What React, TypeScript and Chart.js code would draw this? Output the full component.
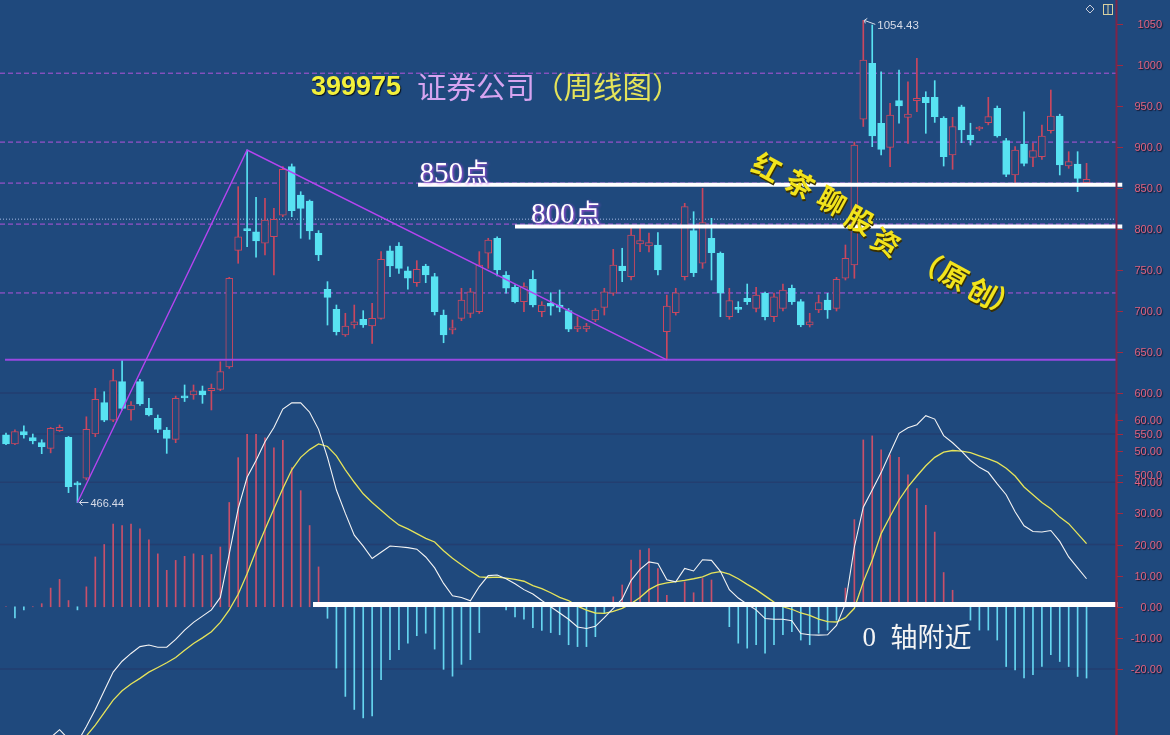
import React, { useEffect, useRef } from 'react';
import Chart from 'chart.js/auto';

// ---------- weekly candles (index 0..121) ----------
const OPEN = [
  549, 538, 553, 545.5, 539.5, 532.5, 554, 546, 489, 496,
  550, 588.2, 567, 613.8, 579.3, 613.8, 581.3, 569, 554.9, 543.5,
  596.3, 597.6, 602.8, 602.8, 604.5, 631.7, 774, 799, 796.7, 782.6,
  790.6, 817, 876, 841.5, 834.1, 794.8, 726.5, 702.1, 670.7, 682.9,
  689.9, 681.7, 691, 773.5, 779.3, 749.1, 734.5, 754.9, 741.9, 695.1,
  677, 691, 697.2, 699.2, 770.4, 788.7, 743.9, 728.9, 711.4, 738.7,
  699.2, 709.4, 707.3, 700.4, 678, 678, 689, 704.5, 721.6, 754.9,
  741.9, 781.7, 779.5, 780.5, 674.8, 698, 741.9, 798, 758.2, 788.7,
  770.4, 693, 703, 715.5, 703.3, 721.6, 693, 703.3, 727.7, 711.4,
  682.9, 701.2, 713.4, 703.3, 739.9, 756.1, 933.8, 1002.1, 929, 899.6,
  956.5, 936.2, 956.5, 960.6, 960.6, 935, 890.2, 949.1, 914.6, 922,
  929.6, 947.2, 907.7, 865.9, 903.7, 887.4, 888.2, 919.9, 937.8, 876.8,
  879.3, 856.5,
];
const HIGH = [
  551, 555, 560, 550, 543, 558, 561, 547, 492, 571,
  605.7, 601.6, 629, 640, 589.6, 616.7, 593.5, 573.2, 558, 596.3,
  609.8, 609.8, 608.5, 611, 638.2, 741, 851.6, 896.3, 838.6, 837.4,
  825.2, 876, 879.3, 845.5, 835.4, 798, 735.8, 707.3, 697.2, 707.3,
  700.4, 709.4, 772.4, 779.3, 783.3, 754, 761.4, 757, 745.9, 701.2,
  689, 727.7, 727.7, 772.4, 788.7, 790.6, 748, 732, 734.5, 749.2,
  711.4, 722.3, 725.6, 703, 693, 685, 703, 727.7, 775.2, 776.5,
  802.8, 800.8, 795, 795.5, 719.5, 727.7, 831.3, 821.1, 849.6, 813,
  772, 727.7, 711.4, 732.9, 728.9, 723, 722, 732.9, 731.7, 714,
  697.2, 719.5, 721.6, 741, 780.5, 906, 1054.43, 1048.8, 991.8, 953.3,
  993.9, 979.6, 1008.2, 967.4, 980.9, 937, 936.2, 951, 929, 925,
  960.6, 950, 910.5, 900.4, 943, 904.5, 926.8, 969.5, 940, 894.3,
  894.3, 880.1,
];
const LOW = [
  537, 537, 545, 538, 526, 527, 553, 478.5, 466.44, 494,
  546.7, 565, 565, 579.3, 567, 585, 572, 551.6, 526.4, 539.4,
  589.6, 592.3, 587.4, 579.3, 603, 630, 758.2, 778.4, 765.5, 768.3,
  743.9, 815, 815, 788.7, 787.5, 761.4, 682.9, 670.7, 669, 678.9,
  680, 660.6, 690, 741.9, 745.9, 726.5, 730, 734.5, 695.1, 661.3,
  672, 688.2, 692, 697, 752, 742.7, 721.6, 710, 699.2, 705,
  693, 695, 699, 674.8, 674.8, 674.8, 687, 695.1, 719, 735.8,
  738, 772.4, 772, 743.9, 640.5, 695, 737.8, 742, 752, 737.8,
  693, 689.9, 698, 708, 699, 689, 687, 700, 708, 680.8,
  680.5, 698, 691, 700, 737.8, 739.9, 925, 900.4, 890.2, 876,
  929, 904.5, 943, 916.7, 930, 876.8, 872.8, 905.3, 902.4, 920,
  927, 912, 863.8, 855.7, 876.8, 876, 885, 917, 865.9, 874,
  845.5, 855,
];
const CLOSE = [
  538, 553, 549, 541.5, 534.5, 557, 558, 485.7, 488, 555.7,
  592.3, 567, 615, 581.3, 585.4, 586.6, 573.2, 555.7, 544.7, 593.5,
  594, 602.8, 597.6, 605.7, 626, 739.9, 790.6, 798, 785.4, 811,
  811.8, 872.8, 822.3, 825.2, 797.6, 768.3, 716.7, 674.8, 681.7, 686.9,
  682.9, 691, 763.1, 754.9, 752, 739.9, 750.9, 743.9, 699.2, 670.7,
  679, 713.4, 723.5, 756.1, 786.6, 750, 727.7, 711.4, 729.7, 707.3,
  707.3, 706, 704.5, 677.7, 681, 681.5, 701.2, 723.5, 756.1, 749.2,
  792.7, 785.8, 783.3, 750, 706, 722.3, 827.2, 746.7, 807.7, 771.1,
  721.6, 712.6, 702, 711.4, 719.5, 693, 717.4, 725.6, 711.4, 682.9,
  686.9, 710.2, 701.2, 738.7, 764.3, 902.4, 1006.1, 913.4, 897.2, 939,
  950, 940.2, 959.4, 954, 937, 888.2, 924.8, 920.7, 908.5, 923,
  937, 913.4, 866.7, 896.3, 880.1, 895.5, 913.4, 937.8, 878, 882.1,
  861.8, 860.6,
];

// ---------- MACD ----------
const MACD_HIST = [
  0, -3.6, -1, 0, 1, 6, 8.8, 2, -1, 6.4,
  16, 20, 26.6, 26.1, 26.6, 25, 21.5, 17, 11.7, 14.9,
  16.2, 17, 16.5, 16.8, 19.2, 33.5, 47.9, 55.4, 55.4, 54.3,
  51.1, 53.5, 44.7, 37.3, 26.1, 12.8, -3.7, -19.7, -28.8, -33,
  -35.7, -35.1, -23.4, -17, -13.8, -11.7, -9.3, -8.5, -13.6, -20.1,
  -22.3, -18.5, -17, -8.3, 0.5, 0, -1, -3.3, -4, -6.7,
  -7.6, -8.3, -9, -12.2, -12.8, -12.8, -9.6, -2.1, 3.2, 7,
  15, 18.2, 18.7, 12.3, 3.7, 0.5, 8, 4.5, 9.1, 8.6,
  0.5, -6.4, -11.7, -13.3, -12.2, -14.9, -12.2, -9, -8, -10.7,
  -12.2, -8.5, -7.5, -4.3, 6, 28, 53.6, 54.9, 50.4, 48.8,
  48, 42.4, 38, 32.6, 24, 11, 5.3, 0, -4.3, -7.5,
  -7.5, -10.7, -19.2, -20.3, -22.9, -21.8, -19.2, -15.4, -17.6, -19.2,
  -22.4, -22.9,
];
const DIF = [
  -50, -48, -47, -45.5, -44, -42, -39.5, -42.5, -43.5, -38.5,
  -33, -27, -21, -17.5, -15, -12.8, -12.3, -13, -13, -10.5,
  -7.5, -5, -3, -1, 3, 17, 31.5, 41.6, 47, 53,
  57.6, 63.5, 65.5, 65.5, 62.5, 57, 48, 37.5, 30, 23,
  19.5, 15.5, 17.5, 19.5, 19.3, 19, 18.5, 16, 12.5, 7.5,
  3.5, 3, 1.9, 6.5, 10, 10.2, 9, 7.4, 5.5, 4.1,
  2, 0, -2, -4, -6.5, -7, -6.3, -3.5, -0.5, 2.5,
  8.5, 12, 14.4, 13.9, 8.7, 8, 12.3, 11.5, 15.1, 14.9,
  11.4, 5.5, 2.8, 0.8, -1, -3.8, -4, -4, -4.5, -8.6,
  -9, -9.1, -9, -6, 1, 19.2, 32, 37.5, 43.1, 49.5,
  55.7, 57.5, 58.5, 61.4, 60.3, 55, 52.7, 50, 47, 44.8,
  43.2, 39.5, 36, 30.5, 26, 24.2, 24, 24.5, 21, 16,
  12.5, 9,
];
const DEA = [
  -52, -51, -50, -49, -48, -47, -46, -45.5, -44, -41.5,
  -38, -34, -30, -27, -24.8, -23, -21, -19.5, -18, -16.3,
  -14, -11.8, -10, -8, -5, -1, 4, 10.6, 18, 24.8,
  31.5, 38, 44, 48, 50.5, 52.3, 51.5, 48.5, 44, 40,
  36.3, 33.5, 31, 28.5, 26.3, 25, 23.5, 22, 20.8, 18,
  15.6, 13.5, 11.5, 9.6, 9.4, 9.5, 9.2, 8.8, 8.2, 6.8,
  5.8, 4.5, 3, 2, 0.2, -1.1, -2, -2.1, -1.5, -0.5,
  1, 3, 5.5, 7, 7.7, 8.1, 8.5, 9, 9.6, 10.8,
  11.3, 10.5, 9, 7.2, 5.5, 3.5, 1.5, 0, -0.8, -2,
  -2.8, -4, -4.8, -4.9, -3.5, -0.5, 8, 15, 23.5, 29,
  34.3, 38.5, 42, 45.3, 48, 49.7, 50.2, 50, 49.5, 48.5,
  47.5, 46.4, 44.5, 42, 38.5, 36, 33.5, 31.5, 28.8, 26.7,
  23.5, 20.3,
];

// ---------- axis ticks / levels ----------
const PRICE_TICKS = [1050, 1000, 950, 900, 850, 800, 750, 700, 650, 600, 550, 500];
const MACD_TICKS = [60, 50, 40, 30, 20, 10, 0, -10, -20];
const DASHED_LEVELS = [990, 906, 856, 806, 722];
const DOTTED_LEVEL = 812;
const SUPPORT_LEVEL = 640.5;
const LEVEL_850 = 854;
const LEVEL_800 = 803;
const TREND_POINTS = [8, 27, 74]; // candle indices: low -> high -> low
const LOW_LABEL = '466.44';
const HIGH_LABEL = '1054.43';

// texts
const TITLE_CODE = '399975';
const TITLE_NAME = '证券公司';
const TITLE_NOTE = '（周线图）';
const TEXT_850 = ['850', '点'];
const TEXT_800 = ['800', '点'];
const TEXT_ZERO = ['0', '轴附近'];
const STAMP = ['红', '茶', '聊', '股', '资', '（', '原', '创', '）'];

// ---------- styles ----------
const BG = '#1f497d';
const RED = '#c9475f';
const CYAN = '#58e2f2';
const HIST_RED = '#c8506a';
const HIST_CYAN = '#66d6f0';
const X_MIN = -0.672;
const X_MAX = 124.41;
const Y_MIN = 182.93;
const Y_MAX = 1079.27;
const M_MIN = -41.2;
const M_MAX = 194.94;

const IDX = OPEN.map((_, i) => i);
const isUp = (i: number) => CLOSE[i] >= OPEN[i];

const fmtPrice = (v: number) => (v >= 1000 ? String(v) : v.toFixed(1));

function drawLabel(ctx: CanvasRenderingContext2D, text: string, x: number, y: number, font: string, color: string, glow?: string, blur = 2) {
  ctx.save();
  ctx.font = font;
  ctx.fillStyle = color;
  if (glow) {
    ctx.shadowColor = glow;
    ctx.shadowBlur = blur;
    ctx.shadowOffsetX = 1;
    ctx.shadowOffsetY = 1;
  }
  ctx.fillText(text, x, y);
  const w = ctx.measureText(text).width;
  ctx.restore();
  return w;
}

const overlay = {
  id: 'overlay',
  beforeDraw(chart: any) {
    const { ctx, width, height } = chart;
    const y = chart.scales.y;
    const y2 = chart.scales.y2;
    const area = chart.chartArea;
    ctx.save();
    ctx.fillStyle = BG;
    ctx.fillRect(0, 0, width, height);
    // faint grid bands
    ctx.strokeStyle = 'rgba(45,35,80,0.28)';
    ctx.lineWidth = 1.5;
    const faint = [y.getPixelForValue(600), y.getPixelForValue(550), y2.getPixelForValue(40), y2.getPixelForValue(20), y2.getPixelForValue(-20)];
    faint.forEach((py: number) => {
      ctx.beginPath();
      ctx.moveTo(area.left, py);
      ctx.lineTo(area.right, py);
      ctx.stroke();
    });
    ctx.restore();
  },
  afterDraw(chart: any) {
    const { ctx } = chart;
    const x = chart.scales.x;
    const y = chart.scales.y;
    const y2 = chart.scales.y2;
    const area = chart.chartArea;

    // right axis line + ticks + labels
    ctx.save();
    ctx.strokeStyle = '#7e2448';
    ctx.lineWidth = 2;
    ctx.beginPath();
    ctx.moveTo(area.right - 0.5, 0);
    ctx.lineTo(area.right - 0.5, area.bottom);
    ctx.stroke();
    ctx.strokeStyle = '#9a2238';
    ctx.beginPath();
    ctx.moveTo(area.right - 0.5, y2.getPixelForValue(62));
    ctx.lineTo(area.right - 0.5, area.bottom);
    ctx.stroke();
    ctx.lineWidth = 1;
    ctx.strokeStyle = '#a02a40';
    const tickFont = '11px "Liberation Sans"';
    ctx.textAlign = 'right';
    ctx.textBaseline = 'middle';
    PRICE_TICKS.forEach((v) => {
      const py = Math.round(y.getPixelForValue(v)) + 0.5;
      ctx.beginPath();
      ctx.moveTo(area.right, py);
      ctx.lineTo(area.right + 6, py);
      ctx.stroke();
      drawLabel(ctx, fmtPrice(v), area.right + 45, py, tickFont, '#e0627e', 'rgba(20,10,30,0.9)', 1);
    });
    MACD_TICKS.forEach((v) => {
      const py = Math.round(y2.getPixelForValue(v)) + 0.5;
      ctx.beginPath();
      ctx.moveTo(area.right, py);
      ctx.lineTo(area.right + 6, py);
      ctx.stroke();
      drawLabel(ctx, v.toFixed(2), area.right + 45, py, tickFont, '#e0627e', 'rgba(20,10,30,0.9)', 1);
    });
    ctx.restore();

    ctx.save();
    ctx.textAlign = 'left';
    ctx.textBaseline = 'alphabetic';

    // title
    drawLabel(ctx, TITLE_CODE, 311, 95, 'bold 27px "Liberation Sans"', '#f2f03c', 'rgba(0,0,0,0.8)', 1);
    drawLabel(ctx, TITLE_NAME, 417, 98, '29.5px "Noto Sans CJK SC"', '#d6a4f0');
    drawLabel(ctx, TITLE_NOTE, 534, 98, '29.5px "Noto Sans CJK SC"', '#e4e35a');

    // 850 / 800 labels
    const lx850 = x.getPixelForValue(46.3);
    const ly850 = y.getPixelForValue(LEVEL_850) - 3;
    let w = drawLabel(ctx, TEXT_850[0], lx850, ly850, '29px "Liberation Serif"', '#ffffff', '#c24cf0', 3);
    drawLabel(ctx, TEXT_850[1], lx850 + w + 1, ly850 - 1, '25px "Noto Sans CJK SC"', '#ffffff', '#c24cf0', 3);
    const lx800 = x.getPixelForValue(58.8);
    const ly800 = y.getPixelForValue(LEVEL_800) - 4;
    w = drawLabel(ctx, TEXT_800[0], lx800, ly800, '29px "Liberation Serif"', '#ffffff', '#c24cf0', 3);
    drawLabel(ctx, TEXT_800[1], lx800 + w + 1, ly800 - 1, '25px "Noto Sans CJK SC"', '#ffffff', '#c24cf0', 3);

    // zero axis note
    const zx = x.getPixelForValue(95.9);
    const zy = y2.getPixelForValue(0) + 39;
    drawLabel(ctx, TEXT_ZERO[0], zx, zy, '27px "Liberation Serif"', '#f4f4f4');
    drawLabel(ctx, TEXT_ZERO[1], zx + 28, zy + 1, '27px "Noto Sans CJK SC"', '#f4f4f4');

    // low / high labels
    const lowX = x.getPixelForValue(TREND_POINTS[0]);
    const lowY = y.getPixelForValue(LOW[TREND_POINTS[0]]);
    ctx.strokeStyle = '#d8dce8';
    ctx.lineWidth = 1;
    ctx.beginPath();
    ctx.moveTo(lowX + 2, lowY);
    ctx.lineTo(lowX + 11, lowY);
    ctx.moveTo(lowX + 2, lowY);
    ctx.lineTo(lowX + 5, lowY - 3);
    ctx.moveTo(lowX + 2, lowY);
    ctx.lineTo(lowX + 5, lowY + 3);
    ctx.stroke();
    ctx.textBaseline = 'middle';
    drawLabel(ctx, LOW_LABEL, lowX + 13, lowY + 1, '11px "Liberation Sans"', '#d8dce8');
    const hiIdx = HIGH.indexOf(Math.max(...HIGH));
    const hiX = x.getPixelForValue(hiIdx);
    const hiY = y.getPixelForValue(HIGH[hiIdx]);
    ctx.beginPath();
    ctx.moveTo(hiX + 1, hiY);
    ctx.lineTo(hiX + 12, hiY + 4);
    ctx.moveTo(hiX + 1, hiY);
    ctx.lineTo(hiX + 4, hiY - 2);
    ctx.moveTo(hiX + 1, hiY);
    ctx.lineTo(hiX + 2, hiY + 3);
    ctx.stroke();
    drawLabel(ctx, HIGH_LABEL, hiX + 14, hiY + 5, '11.5px "Liberation Sans"', '#d8dce8');

    // diagonal stamp text
    const stampPos = [
      [767, 167], [800, 184], [832, 201], [860, 220], [886, 242],
      [928, 262], [954, 276], [982, 292], [1006, 303],
    ];
    ctx.textAlign = 'center';
    ctx.textBaseline = 'middle';
    STAMP.forEach((ch, i) => {
      const [cx, cy] = stampPos[i];
      ctx.save();
      ctx.translate(cx, cy);
      ctx.rotate(0.5);
      ctx.font = 'bold 28px "Noto Sans CJK SC"';
      ctx.fillStyle = '#3a3000';
      ctx.fillText(ch, 1.5, 1.5);
      ctx.fillStyle = '#f2e41c';
      ctx.fillText(ch, 0, 0);
      ctx.restore();
    });

    // top-right icons
    ctx.strokeStyle = '#c8ccd8';
    ctx.lineWidth = 1;
    ctx.beginPath();
    ctx.moveTo(1086, 9);
    ctx.lineTo(1090, 5);
    ctx.lineTo(1094, 9);
    ctx.lineTo(1090, 13);
    ctx.closePath();
    ctx.stroke();
    ctx.strokeStyle = '#d8d0a0';
    ctx.strokeRect(1103.5, 4.5, 9, 10);
    ctx.beginPath();
    ctx.moveTo(1108, 5);
    ctx.lineTo(1108, 14);
    ctx.stroke();
    ctx.restore();
  },
};

export default function App() {
  const ref = useRef<HTMLCanvasElement>(null);
  useEffect(() => {
    const canvas = ref.current;
    if (!canvas) return;
    const lineSet = (data: { x: number; y: number }[], color: string, width: number, order: number, extra: any = {}) => ({
      type: 'line' as const,
      data,
      borderColor: color,
      borderWidth: width,
      pointRadius: 0,
      tension: 0,
      fill: false,
      order,
      ...extra,
    });
    const full = (v: number) => [{ x: X_MIN, y: v }, { x: X_MAX, y: v }];
    const datasets: any[] = [
      // white level lines
      lineSet([{ x: 46.14, y: LEVEL_850 }, { x: 125.0, y: LEVEL_850 }], '#ffffff', 4, 0, { yAxisID: 'y', clip: false }),
      lineSet([{ x: 57.0, y: LEVEL_800 }, { x: 125.0, y: LEVEL_800 }], '#ffffff', 4, 0, { yAxisID: 'y', clip: false }),
      lineSet([{ x: 34.38, y: 0.7 }, { x: 124.5, y: 0.7 }], '#ffffff', 5, 0, { yAxisID: 'y2', clip: false }),
      // MACD lines
      lineSet(IDX.map((i) => ({ x: i, y: DIF[i] })), '#f4f4f4', 1.1, 1, { yAxisID: 'y2' }),
      lineSet(IDX.map((i) => ({ x: i, y: DEA[i] })), '#e6e45a', 1.3, 1, { yAxisID: 'y2' }),
      // trend lines
      lineSet(TREND_POINTS.map((i, k) => ({ x: i, y: k === 1 ? HIGH[i] : LOW[i] })), '#b544f0', 1.4, 2, { yAxisID: 'y' }),
      lineSet([{ x: -0.11, y: SUPPORT_LEVEL }, { x: X_MAX, y: SUPPORT_LEVEL }], '#9a48e2', 2, 2, { yAxisID: 'y' }),
      // candle bodies
      {
        type: 'bar',
        yAxisID: 'y',
        data: IDX.map((i) => ({ x: i, y: [Math.min(OPEN[i], CLOSE[i]), Math.max(OPEN[i], CLOSE[i])] })),
        backgroundColor: IDX.map((i) => (isUp(i) ? BG : CYAN)),
        borderColor: IDX.map((i) => (isUp(i) ? RED : CYAN)),
        borderWidth: 1,
        borderSkipped: false,
        barThickness: 7,
        minBarLength: 2,
        grouped: false,
        order: 3,
      },
      // wicks
      {
        type: 'bar',
        yAxisID: 'y',
        data: IDX.map((i) => ({ x: i, y: [LOW[i], HIGH[i]] })),
        backgroundColor: IDX.map((i) => (isUp(i) ? RED : CYAN)),
        barThickness: 1,
        grouped: false,
        order: 4,
      },
      // MACD histogram
      {
        type: 'bar',
        yAxisID: 'y2',
        data: IDX.map((i) => ({ x: i, y: MACD_HIST[i] })),
        backgroundColor: MACD_HIST.map((v) => (v >= 0 ? HIST_RED : HIST_CYAN)),
        barThickness: 1,
        grouped: false,
        order: 5,
      },
      // dashed/dotted reference lines
      ...DASHED_LEVELS.map((v) => lineSet(full(v), 'rgba(186,84,226,0.95)', 1, 6, { yAxisID: 'y', borderDash: [5, 3] })),
      lineSet(full(DOTTED_LEVEL), 'rgba(200,215,255,0.8)', 1, 6, { yAxisID: 'y', borderDash: [1, 2] }),
    ];

    const chart = new Chart(canvas, {
      type: 'bar',
      data: { datasets },
      options: {
        animation: false,
        responsive: false,
        devicePixelRatio: 1,
        events: [],
        layout: { padding: { left: 0, right: 53, top: 0, bottom: 0 } },
        plugins: { legend: { display: false }, tooltip: { enabled: false } },
        scales: {
          x: { type: 'linear', min: X_MIN, max: X_MAX, display: false, offset: false, grid: { offset: false } },
          y: { type: 'linear', min: Y_MIN, max: Y_MAX, display: false },
          y2: { type: 'linear', min: M_MIN, max: M_MAX, display: false },
        },
      } as any,
      plugins: [overlay as any],
    });
    return () => chart.destroy();
  }, []);
  return (
    <div style={{ position: 'fixed', left: 0, top: 0, width: 1170, height: 735, background: BG }}>
      <canvas ref={ref} width={1170} height={735} style={{ display: 'block', width: 1170, height: 735 }} />
    </div>
  );
}
